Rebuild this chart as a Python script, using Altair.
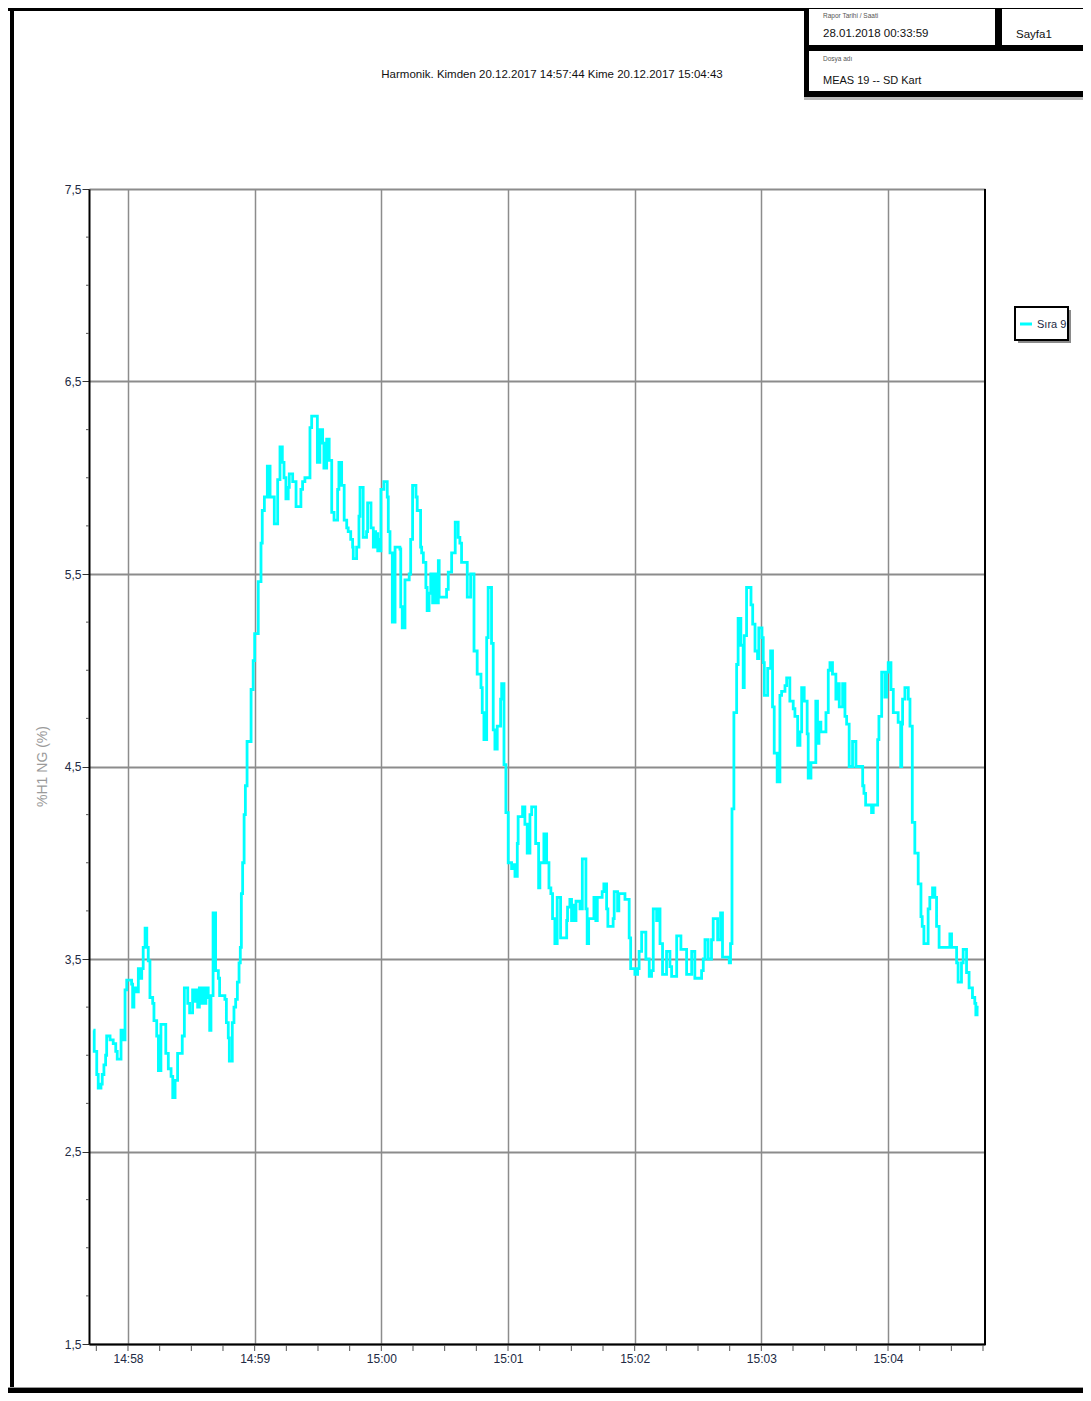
import altair as alt
import pandas as pd

# ---------------- data (time = seconds after 14:57:00, value = %H1 NG in %) -------------
t_sec = [
    43.6, 44.0, 45.2, 45.9, 47.2, 47.8, 48.6, 49.4, 49.9, 51.5, 53.0, 54.2, 54.9, 56.7, 57.8,
    58.6, 59.4, 61.7, 62.2, 62.8, 64.1, 64.9, 65.7, 66.5, 67.2, 68.1, 68.9, 69.6, 70.4, 71.7,
    72.3, 73.6, 74.4, 75.6, 77.9, 79.1, 80.4, 81.2, 82.3, 83.5, 85.7, 86.7, 88.3, 89.2, 90.6,
    91.4, 92.2, 93.0, 93.8, 94.6, 95.4, 96.1, 96.9, 98.0, 98.7, 99.3, 100.3, 101.5, 102.8, 103.4,
    105.9, 106.6, 107.5, 108.0, 109.4, 110.2, 111.0, 111.8, 112.6, 113.2, 113.7, 114.3, 115.0, 115.6, 116.4,
    117.8, 118.3, 119.3, 120.0, 121.7, 123.0, 123.6, 124.6, 126.0, 127.3, 129.3, 130.9, 132.0, 133.1, 133.9,
    134.8, 135.9, 136.4, 138.0, 139.6, 141.9, 142.7, 143.8, 146.2, 147.0, 149.7, 150.9, 152.2, 152.8, 154.1,
    155.3, 156.5, 157.6, 159.3, 159.9, 161.2, 162.4, 163.6, 164.3, 165.5, 166.4, 166.7, 168.3, 169.4, 169.9,
    171.4, 173.0, 173.5, 175.1, 176.2, 176.6, 177.3, 177.8, 178.3, 178.9, 179.3, 179.8, 181.2, 182.8, 183.3,
    184.1, 185.2, 186.5, 188.8, 189.2, 189.9, 191.2, 193.2, 193.9, 194.8, 196.4, 197.0, 198.6, 199.1, 199.9,
    201.1, 201.7, 202.6, 203.4, 204.3, 204.9, 206.2, 207.0, 207.4, 210.9, 211.7, 213.3, 215.0, 216.4, 217.2,
    218.0, 220.7, 222.3, 223.9, 225.4, 227.2, 227.8, 228.6, 229.9, 230.6, 232.2, 233.0, 233.8, 234.9, 236.5,
    237.0, 238.1, 239.0, 240.1, 241.7, 242.5, 243.3, 244.4, 244.8, 246.9, 248.0, 249.1, 250.4, 251.2, 253.1,
    254.5, 255.1, 257.0, 258.3, 259.4, 260.3, 261.1, 262.2, 263.3, 264.9, 267.8, 268.2, 269.3, 270.1, 270.9,
    271.7, 272.2, 274.1, 275.2, 276.9, 277.5, 278.2, 280.7, 281.6, 282.3, 284.6, 285.4, 286.7, 287.3, 289.8,
    290.3, 291.9, 292.5, 295.4, 297.4, 298.1, 300.1, 301.4, 302.1, 303.3, 305.3, 306.9, 308.0, 308.8, 310.4,
    310.9, 312.0, 313.2, 315.1, 316.7, 317.5, 319.9, 321.9, 324.6, 327.0, 328.5, 331.7, 332.5, 333.3, 334.8,
    336.4, 337.2, 339.3, 340.7, 341.6, 344.8, 345.4, 346.1, 347.0, 348.3, 349.0, 350.3, 351.4, 351.9, 353.0,
    355.1, 355.9, 357.0, 358.2, 358.8, 360.3, 360.9, 361.4, 363.0, 364.4, 365.3, 366.1, 367.5, 368.8, 369.6,
    371.2, 372.0, 373.5, 375.1, 375.9, 377.2, 378.3, 379.1, 380.3, 381.7, 382.2, 383.5, 385.8, 386.6, 387.3,
    388.2, 390.6, 391.7, 392.5, 393.7, 395.3, 396.4, 396.9, 398.5, 399.6, 400.4, 401.6, 403.2, 404.8, 408.0,
    408.6, 409.4, 412.2, 413.0, 415.1, 415.7, 417.0, 418.5, 419.3, 420.1, 421.4, 422.5, 424.8, 426.0, 426.5,
    426.9, 428.0, 429.6, 430.4, 431.5, 432.7, 434.3, 435.6, 436.2, 437.0, 439.0, 439.8, 441.1, 442.2, 443.0,
    444.2, 449.3, 450.1, 452.5, 453.2, 454.8, 455.6, 457.2, 458.4, 460.0, 461.1, 461.6, 462.2, 462.9,
]
h1_ng = [
    3.13, 3.02, 2.90, 2.83, 2.85, 2.90, 2.95, 3.00, 3.10, 3.08, 3.06, 3.02, 2.98, 3.13, 3.08,
    3.34, 3.39, 3.37, 3.25, 3.35, 3.33, 3.45, 3.40, 3.45, 3.56, 3.66, 3.56, 3.49, 3.30, 3.27,
    3.18, 3.10, 2.92, 3.16, 3.01, 2.93, 2.89, 2.78, 2.87, 3.01, 3.10, 3.35, 3.27, 3.22, 3.34,
    3.28, 3.34, 3.25, 3.35, 3.27, 3.35, 3.27, 3.35, 3.30, 3.13, 3.31, 3.74, 3.44, 3.40, 3.31,
    3.29, 3.17, 3.09, 2.97, 3.17, 3.25, 3.29, 3.38, 3.48, 3.56, 3.84, 4.00, 4.25, 4.40, 4.63,
    4.63, 4.90, 5.05, 5.19, 5.46, 5.66, 5.83, 5.90, 6.06, 5.90, 5.76, 5.99, 6.16, 6.08, 6.00,
    5.89, 5.95, 6.02, 5.98, 5.85, 5.94, 5.98, 6.00, 6.26, 6.32, 6.08, 6.25, 6.18, 6.05, 6.20,
    6.09, 5.82, 5.78, 5.94, 6.08, 5.96, 5.78, 5.74, 5.72, 5.68, 5.64, 5.58, 5.64, 5.80, 5.95,
    5.69, 5.72, 5.87, 5.74, 5.64, 5.72, 5.64, 5.71, 5.62, 5.68, 5.62, 5.94, 5.98, 5.90, 5.72,
    5.61, 5.25, 5.64, 5.63, 5.33, 5.22, 5.47, 5.50, 5.68, 5.96, 5.90, 5.83, 5.64, 5.61, 5.56,
    5.43, 5.31, 5.40, 5.50, 5.35, 5.50, 5.35, 5.57, 5.38, 5.42, 5.51, 5.61, 5.77, 5.69, 5.66,
    5.56, 5.38, 5.50, 5.10, 4.98, 4.91, 4.78, 4.64, 5.17, 5.43, 5.14, 4.69, 4.59, 4.71, 4.85,
    4.93, 4.51, 4.26, 4.00, 3.97, 3.99, 3.93, 4.10, 4.24, 4.29, 4.20, 4.05, 4.25, 4.29, 4.10,
    3.87, 4.00, 4.15, 4.00, 3.87, 3.84, 3.71, 3.58, 3.82, 3.61, 3.70, 3.77, 3.81, 3.70, 3.78,
    3.70, 3.80, 3.76, 4.02, 3.76, 3.58, 3.71, 3.82, 3.70, 3.82, 3.85, 3.89, 3.76, 3.67, 3.71,
    3.85, 3.75, 3.84, 3.81, 3.61, 3.45, 3.42, 3.45, 3.54, 3.64, 3.50, 3.41, 3.44, 3.76, 3.70,
    3.76, 3.58, 3.42, 3.54, 3.46, 3.41, 3.62, 3.55, 3.42, 3.54, 3.40, 3.44, 3.50, 3.60, 3.50,
    3.60, 3.71, 3.60, 3.74, 3.51, 3.48, 3.58, 4.28, 4.78, 5.03, 5.27, 5.13, 4.91, 5.18, 5.43,
    5.34, 5.24, 5.10, 5.06, 5.22, 5.17, 5.04, 4.87, 5.01, 5.10, 4.81, 4.57, 4.42, 4.87, 4.89,
    4.92, 4.96, 4.84, 4.80, 4.76, 4.61, 4.68, 4.91, 4.84, 4.67, 4.44, 4.52, 4.84, 4.62, 4.73,
    4.68, 4.78, 5.00, 5.04, 4.98, 4.85, 4.93, 4.81, 4.93, 4.76, 4.72, 4.50, 4.63, 4.50, 4.40,
    4.36, 4.30, 4.26, 4.30, 4.64, 4.76, 4.99, 4.86, 4.99, 5.04, 4.90, 4.78, 4.73, 4.50, 4.72,
    4.85, 4.91, 4.85, 4.71, 4.21, 4.05, 3.89, 3.72, 3.67, 3.58, 3.76, 3.82, 3.87, 3.82, 3.67,
    3.56, 3.63, 3.56, 3.48, 3.38, 3.48, 3.55, 3.43, 3.35, 3.30, 3.27, 3.21, 3.25, 3.25,
]
series_name = "Sıra 9"

y_major = [1.5, 2.5, 3.5, 4.5, 5.5, 6.5, 7.5]
y_labels = ["1,5", "2,5", "3,5", "4,5", "5,5", "6,5", "7,5"]
y_minor = [1.75, 2.0, 2.25, 2.75, 3.0, 3.25, 3.75, 4.0, 4.25, 4.75, 5.0, 5.25,
           5.75, 6.0, 6.25, 6.75, 7.0, 7.25]
x_major = [60, 120, 180, 240, 300, 360, 420]
x_labels = ["14:58", "14:59", "15:00", "15:01", "15:02", "15:03", "15:04"]
x_minor = [45, 60, 75, 90, 105, 120, 135, 150, 165, 180, 195, 210, 225, 240, 255, 270,
           285, 300, 315, 330, 345, 360, 375, 390, 405, 420, 435, 450, 465]

title_text = "Harmonik. Kimden 20.12.2017 14:57:44  Kime  20.12.2017 15:04:43"
y_title = "%H1 NG (%)"
hdr_small1 = "Rapor Tarihi / Saati"
hdr_date = "28.01.2018 00:33:59"
hdr_page = "Sayfa1"
hdr_small2 = "Dosya adı"
hdr_file = "MEAS 19 -- SD Kart"

# ---------------- layout -------------
W, H = 896, 1155
NARROW = "Liberation Sans Narrow, Arial Narrow, Liberation Sans, Arial, sans-serif"
TXT = "#222a44"

xs = alt.Scale(domain=[41.53, 465.94], nice=False, zero=False)
ys = alt.Scale(domain=[1.5, 7.5], nice=False, zero=False)

x_label_expr = f"{x_labels}[indexof({x_major}, datum.value)]"
y_label_expr = f"{y_labels}[indexof({y_major}, datum.value)]"

x_axis = alt.Axis(
    values=x_major, labelExpr=x_label_expr, grid=True, gridColor="#8c8c8c",
    gridWidth=1.5, ticks=False, domainColor="black", domainWidth=2,
    labelPadding=9, labelFont=NARROW, labelFontSize=12, labelColor=TXT,
    labelBaseline="top", title=None)
y_axis = alt.Axis(
    values=y_major, labelExpr=y_label_expr, grid=True, gridColor="#8c8c8c",
    gridWidth=2, tickColor="#333333", tickSize=7, tickWidth=1,
    domainColor="black", domainWidth=2, labelPadding=1, labelFont=NARROW,
    labelFontSize=12, labelColor=TXT, title=y_title, titleX=-47, titleY=577,
    titleAngle=270, titleAlign="center", titleBaseline="middle",
    titleColor="#9a9a9a", titleFont="Liberation Sans", titleFontSize=14,
    titleFontWeight="normal")

one = pd.DataFrame({"k": [0]})


def box(x1, x2, y1, y2, color, stroke=None, sw=0):
    kw = dict(color=color, opacity=1)
    if stroke:
        kw.update(stroke=stroke, strokeWidth=sw)
    return alt.Chart(one).mark_rect(**kw).encode(
        x=alt.value(x1), x2=alt.value(x2), y=alt.value(y1), y2=alt.value(y2))


def label(txt, x, y, size, color="#111111", align="left", font=NARROW):
    return alt.Chart(one).mark_text(align=align, baseline="alphabetic", font=font,
                                    fontSize=size, color=color).encode(
        x=alt.value(x), y=alt.value(y), text=alt.value(txt))


frame = [
    box(-81, 1000, -181, -178, "black"),   # top border
    box(-79, -75, -181, 1200, "black"),    # left border
    box(-81, 1000, 1198, 1199, "#9a9a9a"),
    box(-81, 1000, 1199, 1204, "black"),   # bottom border
    box(715, 1011, -181, -92, "black"),    # header box
    box(715, 1011, -92, -89, "#b8b8b8"),
    box(720, 906, -180, -144, "white"),
    box(913, 1011, -180, -144, "white"),
    box(720, 1011, -138, -98, "white"),
]

texts = [
    label(title_text, 463, -111, 11.5, align="center"),
    label(hdr_small1, 734, -171, 6.5, color="#555555"),
    label(hdr_date, 734, -152, 11.5),
    label(hdr_page, 927, -151, 11.5),
    label(hdr_small2, 734, -128, 6.5, color="#555555"),
    label(hdr_file, 734, -105, 11),
]

df = pd.DataFrame({"t": t_sec, "v": h1_ng, "s": series_name})

line = alt.Chart(df).mark_line(interpolate="step-after", strokeWidth=2.8).encode(
    x=alt.X("t:Q", scale=xs, axis=x_axis),
    y=alt.Y("v:Q", scale=ys, axis=y_axis),
    color=alt.Color("s:N", scale=alt.Scale(range=["#00ffff"]), legend=None),
)

xticks = alt.Chart(pd.DataFrame({"t": x_minor})).mark_rule(color="#555555", strokeWidth=1).encode(
    x=alt.X("t:Q", scale=xs, axis=x_axis), y=alt.value(H + 1), y2=alt.value(H + 7))
yticks = alt.Chart(pd.DataFrame({"v": y_minor})).mark_rule(color="#555555", strokeWidth=1).encode(
    y=alt.Y("v:Q", scale=ys, axis=y_axis), x=alt.value(-3), x2=alt.value(0))
right_border = alt.Chart(one).mark_rule(color="black", strokeWidth=2).encode(
    x=alt.value(W), y=alt.value(0), y2=alt.value(H + 1))

# legend box (manual, matching the reference's small framed key)
legend_parts = [
    box(929, 982, 121, 154, "#8a8a8a"),
    box(926, 979, 118, 151, "white", stroke="black", sw=2),
    alt.Chart(one).mark_rule(color="#00ffff", strokeWidth=3).encode(
        x=alt.value(931), x2=alt.value(943), y=alt.value(135)),
    label(series_name, 948, 139, 11, color=TXT),
]

chart = alt.layer(*frame, *texts, xticks, yticks, line, right_border, *legend_parts).properties(
    width=W, height=H,
    padding={"left": 81, "top": 181, "right": 98, "bottom": 49},
    autosize=alt.AutoSizeParams(type="none"),
).configure_view(stroke=None)

chart.save("out.html", embed_options={"renderer": "svg", "actions": False})
